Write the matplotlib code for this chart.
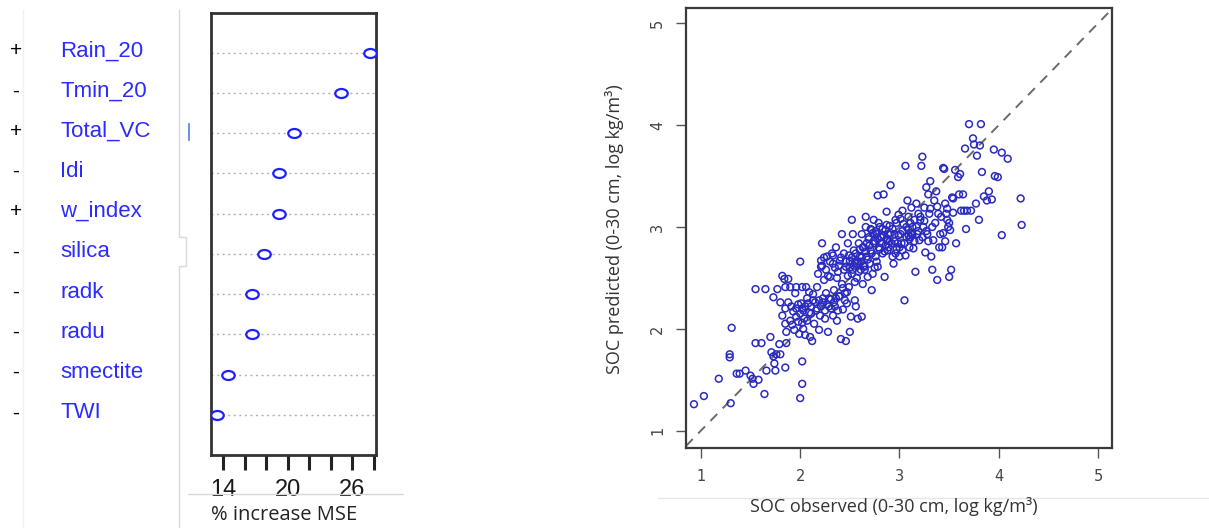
import numpy as np
import matplotlib
matplotlib.use("Agg")
import matplotlib.pyplot as plt
from matplotlib.lines import Line2D
from matplotlib.path import Path
import matplotlib.transforms as mtransforms

W, H = 1209, 528

# ── data ─────────────────────────────────────────────────────────────
VARS = ["Rain_20", "Tmin_20", "Total_VC", "Idi", "w_index",
        "silica", "radk", "radu", "smectite", "TWI"]
SIGNS = ["+", "-", "+", "-", "+", "-", "-", "-", "-", "-"]
INC_MSE = [27.65, 24.95, 20.6, 19.2, 19.2, 17.8, 16.7, 16.7, 14.45, 13.4]
MSE_TICKS = [14, 16, 18, 20, 22, 24, 26, 28]
MSE_LABELS = ["14", "", "", "20", "", "", "26", ""]

OBS = [
    0.93, 1.03, 1.18, 1.30, 1.31, 1.29, 1.29, 1.36, 1.39, 1.45, 1.50, 1.52, 1.53,
    1.55, 1.58, 1.61, 1.64, 1.66, 1.70, 1.71, 1.73, 1.74, 1.75, 1.76, 1.79, 1.80,
    1.85, 1.86, 2.00, 2.02, 2.02,
    1.55, 1.65, 1.73, 1.77, 1.82, 1.84, 1.88, 1.85, 1.90, 1.96, 2.02, 2.06,
    1.80, 1.82, 1.85, 1.85, 1.86, 1.88, 1.90, 1.91, 1.93, 1.94, 1.95, 1.96, 1.98,
    1.99, 2.00, 2.01, 2.02, 2.03, 2.03, 2.05, 2.07, 2.00,
    2.07, 2.08, 2.09, 2.10, 2.11, 2.12, 2.13, 2.14, 2.16, 2.17, 2.18, 2.19, 2.20,
    2.21, 2.21, 2.22, 2.23, 2.24, 2.25, 2.26, 2.27, 2.28, 2.29, 2.30, 2.31, 2.32, 2.33,
    2.33, 2.34, 2.35, 2.36, 2.37, 2.38, 2.39, 2.40, 2.41, 2.42, 2.42, 2.43, 2.44,
    2.45, 2.46, 2.46, 2.47, 2.48, 2.49, 2.50, 2.50, 2.51, 2.52, 2.52, 2.53, 2.54,
    2.55, 2.55, 2.56, 2.57, 2.58, 2.59, 2.60, 2.61, 2.62, 2.62, 2.63,
    2.64, 2.65, 2.66, 2.66, 2.67, 2.68, 2.69, 2.70, 2.71, 2.72, 2.72, 2.73, 2.74,
    2.75, 2.76, 2.77, 2.78, 2.78, 2.79, 2.80, 2.82, 2.83, 2.84, 2.85, 2.86, 2.87,
    2.87, 2.88, 2.89, 2.90, 2.91, 2.92, 2.93, 2.94, 2.95, 2.96, 2.97, 2.98, 2.99, 3.00,
    3.01, 3.02, 3.03, 3.03, 3.04, 3.05, 3.06, 3.07, 3.08, 3.09, 3.09, 3.10, 3.11,
    3.12, 3.13, 3.14, 3.15, 3.16, 3.17, 3.18, 3.19, 3.20, 3.21, 3.22, 3.23, 3.24,
    3.25, 3.26, 3.27, 3.28, 3.29, 3.30, 3.31, 3.32, 3.33, 3.33,
    3.34, 3.35, 3.37, 3.38, 3.39, 3.40, 3.41, 3.43, 3.44, 3.45, 3.46, 3.47, 3.48,
    3.49, 3.50, 3.51, 3.52, 3.53, 3.54, 3.56, 3.57, 3.59, 3.60, 3.61, 3.62, 3.64,
    3.65, 3.66, 3.67, 3.68, 3.70,
    3.72, 3.74, 3.75, 3.77, 3.78, 3.80, 3.81, 3.82, 3.83, 3.85, 3.88, 3.90, 3.93,
    3.95, 3.96, 3.99, 4.03, 4.03, 4.09, 4.22, 4.23,
    2.22, 2.24, 2.26, 2.28, 2.30, 2.33, 2.35, 2.37, 2.39, 2.41, 2.44, 2.46, 2.48,
    2.49, 2.50, 2.47, 2.45, 2.43, 2.40, 2.38, 2.36, 2.34, 2.31, 2.29, 2.27, 2.25,
    2.23, 2.21, 2.19, 2.17, 2.15, 2.13, 2.11, 2.09, 2.05, 2.04, 2.02, 1.98, 1.96, 1.92,
    2.52, 2.54, 2.56, 2.58, 2.60, 2.62, 2.64, 2.66, 2.68, 2.70, 2.72, 2.74, 2.76,
    2.78, 2.80, 2.82, 2.84, 2.86, 2.88, 2.90, 2.91, 2.89, 2.87, 2.85, 2.83, 2.81,
    2.79, 2.77, 2.75, 2.73, 2.71, 2.69, 2.67, 2.65, 2.63, 2.61, 2.59, 2.57, 2.55, 2.53,
    2.93, 2.95, 2.97, 2.99, 3.01, 3.03, 3.05, 3.07, 3.09, 3.11, 3.13, 3.15, 3.17,
    3.19, 3.21, 3.23, 3.25, 3.27, 3.29, 3.31, 3.10, 3.12, 3.00, 2.96, 3.06,
    3.36, 3.38, 3.42, 3.46, 3.48, 3.50, 3.54, 3.44,
]
PRED = [
    1.26, 1.34, 1.51, 1.27, 2.01, 1.75, 1.72, 1.56, 1.56, 1.59, 1.54, 1.51, 1.46,
    1.86, 1.50, 1.86, 1.36, 1.59, 1.92, 1.77, 1.73, 1.66, 1.59, 1.75, 1.85, 1.75,
    1.62, 1.86, 1.32, 1.46, 1.68,
    2.39, 2.39, 2.31, 2.39, 2.52, 2.49, 2.49, 2.41, 2.41, 2.41, 2.41, 2.41,
    2.26, 2.13, 2.20, 2.05, 1.97, 2.26, 2.08, 2.22, 2.17, 1.99, 2.35, 2.20, 2.07,
    1.95, 2.15, 2.25, 2.06, 2.18, 2.00, 1.94, 2.30, 2.66,
    2.08, 2.25, 2.36, 1.92, 2.15, 1.88, 2.28, 2.05, 2.18, 2.41, 2.54, 1.99, 2.13,
    2.67, 2.61, 2.84, 2.26, 2.48, 2.10, 2.35, 2.71, 1.97, 2.22, 2.51, 2.29, 2.74, 2.13,
    2.64, 2.38, 2.22, 2.80, 2.08, 2.56, 2.32, 2.67, 1.90, 2.44, 2.93, 2.19, 2.74,
    2.35, 1.88, 2.61, 2.25, 2.84, 2.41, 1.97, 2.67, 2.12, 3.07, 2.54, 2.93, 2.77,
    2.28, 2.46, 2.22, 2.64, 2.10, 2.84, 2.71, 2.58, 2.12, 2.93, 2.44,
    2.80, 2.61, 3.10, 3.00, 2.71, 2.51, 2.88, 2.64, 2.77, 2.38, 2.97, 2.54, 3.07,
    2.84, 2.71, 2.93, 3.31, 2.61, 2.80, 3.00, 2.90, 2.74, 3.32, 2.51, 2.97, 3.15,
    2.87, 2.77, 2.93, 3.01, 3.41, 2.84, 2.71, 2.64, 2.93, 3.07, 2.78, 2.84, 3.12, 2.71,
    2.93, 2.84, 3.16, 2.77, 3.03, 2.28, 3.60, 2.90, 3.26, 3.10, 2.97, 2.80, 2.90,
    3.19, 3.00, 2.79, 3.07, 2.56, 3.23, 2.93, 3.13, 2.87, 3.07, 3.60, 3.69, 3.00,
    3.19, 2.75, 3.39, 2.93, 3.32, 3.13, 3.45, 2.71, 3.00, 2.58,
    2.87, 3.26, 3.35, 2.48, 3.13, 2.80, 2.93, 2.80, 3.58, 3.57, 3.23, 3.13, 3.07,
    3.00, 2.51, 2.97, 2.58, 3.29, 3.28, 3.56, 2.84, 3.49, 3.32, 3.52, 3.16, 3.32,
    3.16, 3.77, 2.98, 3.16, 4.01,
    3.16, 3.87, 3.81, 3.23, 3.70, 3.07, 3.80, 4.01, 3.54, 3.30, 3.26, 3.35, 3.27,
    3.76, 3.50, 3.49, 2.92, 3.73, 3.67, 3.28, 3.02,
    2.62, 2.70, 2.58, 2.52, 2.66, 2.72, 2.60, 2.50, 2.62, 2.70, 2.58, 2.66, 2.52,
    2.72, 2.60, 2.36, 2.28, 2.40, 2.32, 2.18, 2.30, 2.26, 2.20, 2.30, 2.24, 2.18,
    2.30, 2.22, 2.28, 2.20, 2.26, 2.34, 2.22, 2.16, 2.22, 2.10, 2.20, 2.24, 2.12, 2.04,
    2.70, 2.62, 2.74, 2.66, 2.78, 2.70, 2.62, 2.76, 2.68, 2.82, 2.74, 2.86, 2.96,
    2.88, 2.78, 2.84, 2.92, 2.82, 2.88, 2.86, 2.94, 2.80, 3.02, 2.76, 2.98, 2.90,
    3.04, 2.66, 2.60, 2.94, 2.98, 2.90, 2.84, 2.58, 2.80, 2.66, 2.56, 2.50, 2.66, 2.58,
    2.98, 2.86, 3.04, 2.92, 3.08, 2.96, 2.84, 3.00, 2.92, 3.04, 2.92, 2.86, 3.00,
    2.96, 3.10, 2.90, 3.06, 2.96, 2.86, 3.18, 2.88, 2.94, 2.80, 2.74, 2.72,
    3.04, 3.20, 3.10, 2.86, 3.18, 3.04, 3.14, 2.94,
]
SOC_TICKS = [1, 2, 3, 4, 5]

BLUE_TXT = "#2b2bff"
BLUE_PT = "#2a2ac0"


def fx(px):
    return px / W


def fy(py):
    return 1 - py / H


fig = plt.figure(figsize=(W / 100, H / 100), dpi=100)
fig.patch.set_facecolor("white")

# ── left: variable importance dot chart ─────────────────────────────
ax1 = fig.add_axes([fx(211), fy(455), fx(376) - fx(211), fy(12.5) - fy(455)])
rows = np.arange(len(VARS), 0, -1)
for r in rows:
    ax1.axhline(r, color="#b0b0b0", lw=1.0, ls=(0, (1.5, 2.5)), zorder=1)

circ = Path.unit_circle()
ellipse = Path(circ.vertices * np.array([1.0, 0.72]), circ.codes)
ax1.plot(INC_MSE, rows, ls="none", marker=ellipse, markersize=9,
         markerfacecolor="white", markeredgecolor="#1f1fff", markeredgewidth=1.6,
         zorder=3)
ax1.set_xlim(12.85, 28.2)
ax1.set_ylim(0, len(VARS) + 1)
ax1.set_yticks([])
ax1.set_xticks(MSE_TICKS)
ax1.set_xticklabels(MSE_LABELS, fontsize=17, family="Liberation Sans", color="#1a1a1a")
ax1.tick_params(axis="x", length=11, width=2.2, pad=6, color="#222222")
for s in ax1.spines.values():
    s.set_linewidth(2.0)
    s.set_color("#333333")
fig.text(fx(284), fy(515), "% increase MSE", ha="center", va="center",
         fontsize=14.5, family="Open Sans", color="#222222")

trans = mtransforms.blended_transform_factory(fig.transFigure, ax1.transData)
for r, name, sgn in zip(rows, VARS, SIGNS):
    fig.text(fx(60), r + 0.05, name, transform=trans, ha="left", va="center",
             fontsize=16, family="Liberation Sans", color=BLUE_TXT)
    fig.text(fx(16), r + 0.05, sgn, transform=trans, ha="center", va="center",
             fontsize=15, family="Liberation Sans", color="black")

# faint panel edges from the original composite
fig.add_artist(Line2D([fx(23), fx(23)], [fy(10), fy(528)], color="#f0f0f0", lw=1))
fig.add_artist(Line2D([fx(179), fx(179), fx(186), fx(186), fx(179), fx(179)],
                      [fy(10), fy(237), fy(237), fy(266), fy(266), fy(528)],
                      color="#d8d8d8", lw=1))
fig.add_artist(Line2D([fx(188), fx(403)], [fy(494), fy(494)], color="#d8d8d8", lw=1))
fig.add_artist(Line2D([fx(189), fx(189)], [fy(124), fy(140)], color="#4a7fe0", lw=1.2))

# ── right: observed vs predicted SOC ────────────────────────────────
ax2 = fig.add_axes([fx(686), fy(448), fx(1112) - fx(686), fy(8) - fy(448)])
ax2.plot([0.85, 5.15], [0.85, 5.15], color="#6a6a6a", lw=1.4, ls=(0, (5, 4)), zorder=1)
ax2.scatter(OBS, PRED, s=24, facecolors="none", edgecolors=BLUE_PT,
            linewidths=1.1, zorder=2)
ax2.set_xlim(0.85, 5.14)
ax2.set_ylim(0.83, 5.15)
ax2.set_xticks(SOC_TICKS)
ax2.set_yticks(SOC_TICKS)
ax2.tick_params(axis="both", length=7, width=1.0, color="#555555",
                labelsize=10.5, labelcolor="#444444", pad=8)
for lab in ax2.get_yticklabels():
    lab.set_rotation(90)
    lab.set_va("center")
for s in ax2.spines.values():
    s.set_linewidth(1.6)
    s.set_color("#3a3a3a")
fig.text(fx(894), fy(507), "SOC observed (0-30 cm, log kg/m³)", ha="center",
         va="center", fontsize=13, family="Open Sans", color="#333333")
fig.text(fx(615), fy(229), "SOC predicted (0-30 cm, log kg/m³)", ha="center",
         va="center", rotation=90, fontsize=13, family="Open Sans", color="#333333")
fig.add_artist(Line2D([fx(658), fx(1209)], [fy(498), fy(498)], color="#e6e6e6", lw=1))

fig.savefig("out.png", dpi=100, facecolor="white")
